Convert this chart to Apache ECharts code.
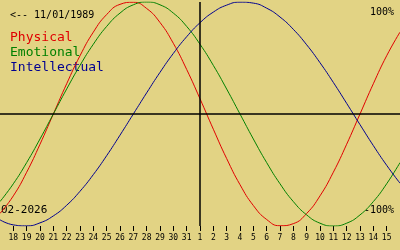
<!DOCTYPE html>
<html><head><meta charset="utf-8">
<script src="https://cdn.jsdelivr.net/npm/echarts@6/dist/echarts.min.js"></script>
<style>html,body{margin:0;padding:0;background:#e2d384;}#c{width:400px;height:250px;}</style>
</head><body><div id="c"></div>
<script>
const days = ['17','18','19','20','21','22','23','24','25','26','27','28','29','30','31','1','2','3','4','5','6','7','8','9','10','11','12','13','14','15','16'];
const physical = [-0.888,-0.731,-0.520,-0.270,0,0.270,0.520,0.731,0.888,0.979,0.998,0.942,0.817,0.631,0.398,0.136,-0.136,-0.398,-0.631,-0.817,-0.942,-0.998,-0.979,-0.888,-0.731,-0.520,-0.270,0,0.270,0.520,0.731];
const emotional = [-0.782,-0.623,-0.434,-0.223,0,0.223,0.434,0.623,0.782,0.901,0.975,1,0.975,0.901,0.782,0.623,0.434,0.223,0,-0.223,-0.434,-0.623,-0.782,-0.901,-0.975,-1,-0.975,-0.901,-0.782,-0.623,-0.434];
const intellectual = [-0.945,-0.990,-0.999,-0.972,-0.910,-0.815,-0.690,-0.541,-0.372,-0.189,0,0.189,0.372,0.541,0.690,0.815,0.910,0.972,0.999,0.990,0.945,0.866,0.756,0.618,0.458,0.282,0.095,-0.095,-0.282,-0.458,-0.618];
const birthText = '<-- 11/01/1989';
const monthText = '02-2026';
const todayDay = '1';

const FONT = 'DejaVu Sans Mono';
const RED = '#e00000', GREEN = '#008000', BLUE = '#000090';
const chart = echarts.init(document.getElementById('c'), null, {renderer: 'canvas'});
const lineSeries = (name, data, color) => ({
  name, type: 'line', data, smooth: true, symbol: 'none',
  lineStyle: {color, width: 1}, z: 3, animation: false
});
chart.setOption({
  backgroundColor: '#e2d384',
  animation: false,
  grid: {left: 0, right: 0, top: 2, bottom: 24},
  xAxis: {
    type: 'category', data: days, boundaryGap: false,
    axisLine: {show: false, onZero: false},
    axisTick: {show: true, length: 5, lineStyle: {color: '#000', width: 1},
      interval: (i) => i > 0 && i < days.length - 1},
    axisLabel: {show: true, color: '#000', fontFamily: FONT, fontSize: 8, margin: 8,
      interval: (i) => i > 0 && i < days.length - 1},
    splitLine: {show: false}
  },
  yAxis: {type: 'value', min: -1, max: 1, show: false},
  series: [
    lineSeries('Physical', physical, RED),
    lineSeries('Emotional', emotional, GREEN),
    Object.assign(lineSeries('Intellectual', intellectual, BLUE), {
      markLine: {
        silent: true, symbol: 'none', label: {show: false},
        lineStyle: {color: '#000', width: 1.5, type: 'solid'},
        data: [{yAxis: 0}, {xAxis: todayDay}]
      }
    })
  ],
  graphic: [
    {type: 'text', left: 10, top: 10, style: {text: birthText, fill: '#000', font: '10px ' + FONT}},
    {type: 'text', left: 10, top: 31, style: {text: 'Physical', fill: RED, font: '13px ' + FONT}},
    {type: 'text', left: 10, top: 46, style: {text: 'Emotional', fill: GREEN, font: '13px ' + FONT}},
    {type: 'text', left: 10, top: 61, style: {text: 'Intellectual', fill: BLUE, font: '13px ' + FONT}},
    {type: 'text', right: 6, top: 7, style: {text: '100%', fill: '#000', font: '10px ' + FONT}},
    {type: 'text', right: 6, top: 205, style: {text: '-100%', fill: '#000', font: '10px ' + FONT}},
    {type: 'text', left: 1, top: 205, style: {text: monthText, fill: '#000', font: '11px ' + FONT}}
  ]
});
</script></body></html>
